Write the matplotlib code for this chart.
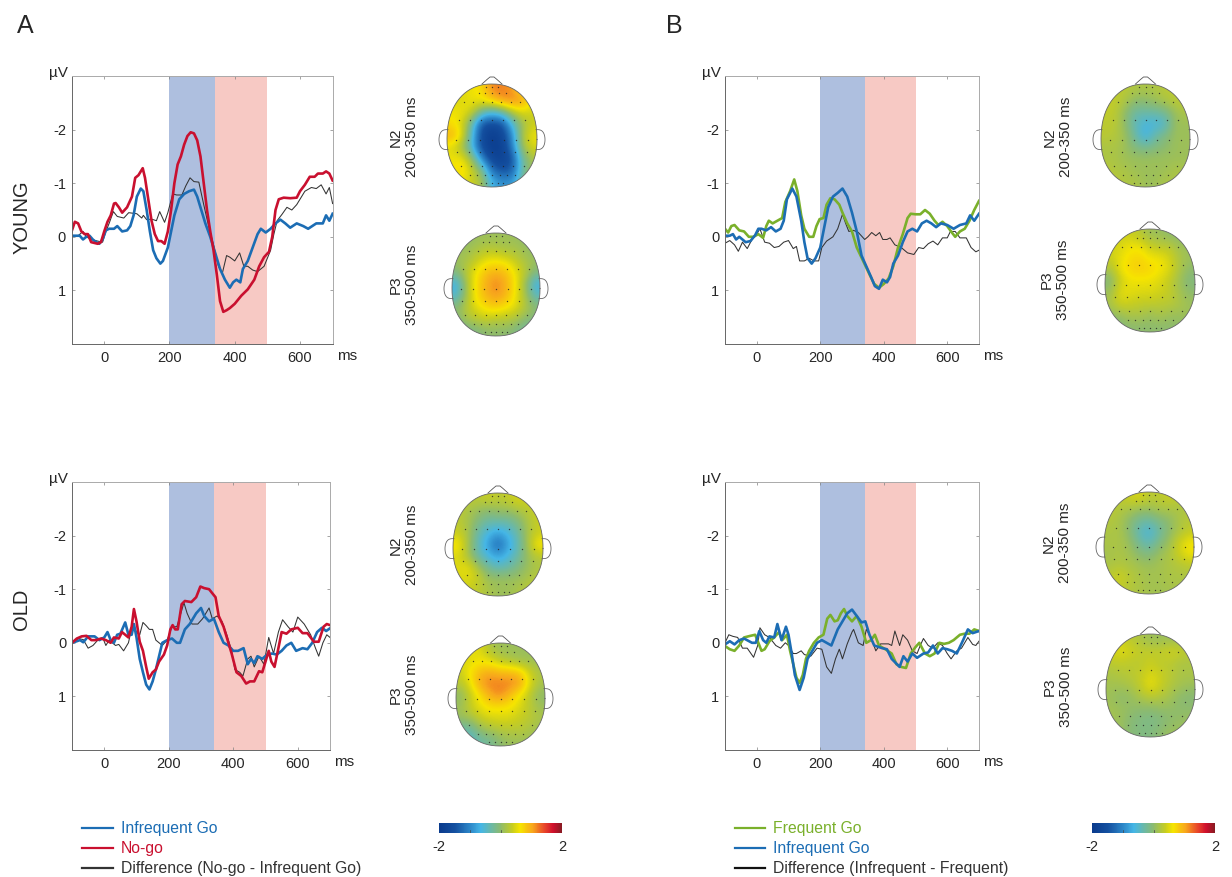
import numpy as np
import matplotlib
matplotlib.use('Agg')
import matplotlib.pyplot as plt
from matplotlib.colors import LinearSegmentedColormap, Normalize
from matplotlib.cm import ScalarMappable
from matplotlib.patches import Polygon

plt.rcParams['font.family'] = ['Liberation Sans', 'DejaVu Sans']

# 1. ERP curves (ms, uV)

a_young_nogo_t = [-100,-90,-80,-70,-60,-50,-40,-20,-10,0,10,20,30,35,45,55,70,85,95,105,118,125,135,145,155,165,175,185,195,205,215,225,235,245,255,265,275,285,295,305,315,325,335,345,355,365,375,385,400,420,440,460,475,490,505,515,525,535,550,570,590,600,615,630,645,655,670,680,690,700]
a_young_nogo_v = [-0.1,-0.28,-0.25,-0.1,-0.05,-0.05,0.1,0.13,0.1,-0.1,-0.28,-0.4,-0.62,-0.63,-0.55,-0.45,-0.55,-0.75,-1.1,-1.15,-1.28,-1.1,-0.7,-0.3,-0.05,0.08,0.08,0.13,-0.1,-0.5,-1.0,-1.35,-1.5,-1.72,-1.88,-1.95,-1.93,-1.8,-1.5,-1.0,-0.5,-0.1,0.25,0.7,1.2,1.4,1.37,1.33,1.25,1.1,0.98,0.8,0.55,0.38,0.28,0,-0.5,-0.7,-0.73,-0.72,-0.73,-0.85,-0.97,-1.12,-1.12,-1.18,-1.18,-1.22,-1.18,-1.05]
a_young_infreq_t = [-100,-85,-75,-65,-55,-45,-35,-25,-15,-5,5,15,30,40,55,70,80,90,100,112,120,130,140,150,160,172,180,195,205,215,230,245,260,275,285,295,310,325,340,355,370,385,395,405,417,425,440,455,470,480,495,510,525,540,555,570,590,610,625,650,670,680,690,700]
a_young_infreq_v = [-0.02,-0.02,-0.02,0.05,0,-0.02,0.05,0.1,0.13,0.05,-0.12,-0.15,-0.15,-0.2,-0.1,-0.12,-0.2,-0.4,-0.75,-0.9,-0.85,-0.5,-0.1,0.25,0.4,0.5,0.45,0.2,-0.1,-0.4,-0.7,-0.8,-0.85,-0.88,-0.75,-0.55,-0.25,0,0.3,0.6,0.8,0.95,0.85,0.8,0.85,0.6,0.45,0.2,-0.05,-0.15,-0.08,-0.15,-0.25,-0.32,-0.25,-0.17,-0.25,-0.2,-0.15,-0.25,-0.25,-0.4,-0.3,-0.43]
a_young_diff_t = [-100,-80,-65,-55,-40,-20,-5,5,15,28,40,60,75,100,115,120,130,145,160,170,185,195,210,222,238,250,263,275,290,305,320,335,350,362,375,385,400,415,428,440,455,470,490,510,520,530,545,560,575,590,615,635,650,665,680,690,700]
a_young_diff_v = [-0.02,-0.02,-0.1,0,0.05,0.08,0.1,-0.1,-0.25,-0.47,-0.38,-0.35,-0.45,-0.43,-0.35,-0.4,-0.32,-0.33,-0.3,-0.47,-0.27,-0.45,-0.8,-0.78,-0.78,-0.95,-1.1,-1.03,-1.02,-0.6,-0.2,0.15,0.55,0.68,0.35,0.38,0.45,0.3,0.55,0.55,0.62,0.65,0.55,0.25,-0.05,-0.3,-0.42,-0.55,-0.5,-0.6,-0.85,-0.92,-0.9,-0.97,-0.8,-0.92,-0.62]

a_old_nogo_t = [-100,-85,-70,-55,-40,-25,-10,5,20,30,45,55,65,75,85,92,100,110,120,130,138,150,160,170,185,195,205,212,220,228,240,250,270,285,298,310,325,345,355,370,385,395,410,425,440,452,465,480,490,500,510,518,528,540,550,565,580,600,615,630,650,665,680,690,700]
a_old_nogo_v = [0,-0.08,-0.12,-0.13,-0.05,-0.05,-0.08,-0.05,0,-0.1,-0.08,-0.2,-0.15,-0.1,-0.3,-0.63,-0.4,-0.02,0.15,0.45,0.67,0.55,0.5,0.35,0.22,0.05,-0.25,-0.33,-0.25,-0.25,-0.72,-0.78,-0.76,-0.85,-1.05,-1.02,-1.0,-0.85,-0.5,-0.3,0,0.2,0.55,0.62,0.76,0.72,0.72,0.53,0.55,0.35,0.15,0.35,0.45,0.1,-0.2,-0.17,-0.25,-0.28,-0.18,-0.18,-0.02,-0.02,-0.3,-0.35,-0.33]
a_old_infreq_t = [-100,-85,-75,-65,-50,-30,-15,0,10,20,30,40,50,65,75,85,92,100,110,120,130,140,150,160,170,180,195,210,225,235,250,265,285,300,310,325,340,355,370,385,400,415,432,445,455,465,475,490,505,520,535,550,565,580,595,615,630,645,660,675,688,700]
a_old_infreq_v = [0,-0.03,-0.05,-0.01,-0.12,-0.12,-0.05,-0.1,-0.2,-0.05,0,-0.15,-0.17,-0.38,-0.15,-0.15,-0.35,-0.1,0.3,0.55,0.78,0.87,0.72,0.5,0.25,0,-0.05,-0.08,0,0,-0.25,-0.35,-0.55,-0.65,-0.5,-0.4,-0.45,-0.2,0,0.05,0.15,0.15,0.1,0.4,0.3,0.38,0.25,0.3,0.22,0.2,0.22,0.15,0.05,0,0.15,0.1,0.12,0,-0.2,-0.28,-0.22,-0.27]
a_old_diff_t = [-100,-80,-65,-50,-35,-20,-5,5,15,25,35,45,60,75,88,100,110,120,130,140,150,160,170,180,195,210,225,240,247,257,272,290,305,325,335,350,365,380,395,405,420,430,445,455,465,480,495,510,525,540,553,570,585,600,620,640,655,665,678,690,700]
a_old_diff_v = [0,-0.08,-0.06,0.1,0.05,-0.05,-0.1,0.05,-0.05,0,0.05,0.03,0.15,0,-0.35,-0.2,-0.15,-0.38,-0.32,-0.25,-0.25,-0.05,0,0.05,-0.05,-0.3,-0.3,-0.6,-0.75,-0.55,-0.35,-0.35,-0.45,-0.65,-0.45,-0.5,-0.4,-0.15,0.15,0.5,0.55,0.62,0.3,0.25,0.45,0.25,0.4,-0.1,0.2,-0.2,-0.43,-0.3,-0.2,-0.48,-0.35,-0.15,0.1,0.25,0,-0.15,-0.1]

b_young_freq_t = [-100,-90,-80,-70,-55,-40,-25,-10,5,20,30,38,50,65,80,90,105,118,128,140,150,165,178,188,198,210,220,232,245,260,270,285,300,315,335,355,370,385,400,415,430,445,460,475,485,500,515,530,545,560,572,585,600,612,625,640,655,670,685,700]
b_young_freq_v = [-0.15,-0.08,-0.2,-0.22,-0.12,-0.1,0,0,-0.05,0.02,-0.2,-0.3,-0.25,-0.3,-0.35,-0.65,-0.85,-1.07,-0.85,-0.4,-0.15,0,0,-0.2,-0.33,-0.35,-0.6,-0.72,-0.7,-0.6,-0.45,-0.25,-0.1,0.2,0.45,0.7,0.88,0.95,0.88,0.78,0.55,0.2,-0.05,-0.35,-0.43,-0.42,-0.42,-0.5,-0.43,-0.3,-0.22,-0.28,-0.2,-0.1,0,-0.1,-0.15,-0.3,-0.5,-0.67]
b_young_infreq_t = [-100,-85,-75,-65,-55,-45,-35,-20,-5,5,15,30,45,60,75,85,95,112,125,140,150,160,173,185,200,210,225,240,255,270,285,300,315,330,345,360,372,385,397,410,420,430,445,460,475,490,505,520,535,550,565,580,600,620,640,660,672,685,700]
b_young_infreq_v = [-0.02,-0.02,-0.05,0.05,0,0.05,0.1,0.08,-0.03,-0.15,-0.15,-0.12,-0.18,-0.1,-0.15,-0.3,-0.7,-0.9,-0.75,-0.3,0.1,0.4,0.5,0.4,0.2,-0.1,-0.55,-0.75,-0.82,-0.9,-0.75,-0.45,-0.1,0.35,0.55,0.75,0.92,0.97,0.8,0.85,0.75,0.5,0.35,0.1,-0.1,-0.15,-0.1,-0.25,-0.3,-0.25,-0.18,-0.25,-0.22,-0.15,-0.22,-0.25,-0.4,-0.3,-0.43]
b_young_diff_t = [-100,-85,-70,-58,-45,-30,-15,0,10,25,40,55,70,85,100,115,125,135,150,165,180,195,205,220,240,255,270,280,290,305,320,340,350,362,375,387,397,410,420,435,455,475,495,510,525,540,555,570,585,600,610,625,640,660,675,690,700]
b_young_diff_v = [0.12,0.07,0.15,0.27,0.1,0.22,0.05,-0.05,-0.15,0.1,0.12,0.2,0.18,0.1,0.07,0.22,0.18,0.45,0.45,0.4,0.45,0.45,0.2,0.08,0,-0.15,-0.42,-0.25,-0.1,-0.12,-0.08,0.05,0,-0.08,-0.02,-0.08,0.05,0.05,0.02,0.15,0.2,0.3,0.33,0.2,0.22,0.13,0.08,0.15,0.02,0.02,-0.1,-0.1,0.02,0.02,0.2,0.28,0.25]

b_old_freq_t = [-100,-85,-70,-55,-40,-20,-5,5,15,25,40,55,70,80,95,105,115,125,135,145,155,165,180,195,210,222,232,245,255,265,275,285,300,315,330,345,360,372,385,405,425,440,455,470,485,500,512,530,545,560,575,590,605,620,640,655,670,685,700]
b_old_freq_v = [0.06,0.12,0.15,0.05,-0.1,-0.13,-0.15,0,0.15,0.12,-0.03,-0.1,-0.2,-0.05,-0.15,0.15,0.4,0.65,0.75,0.6,0.3,0.15,0,-0.1,-0.15,-0.45,-0.52,-0.4,-0.42,-0.55,-0.63,-0.5,-0.4,-0.5,-0.3,0,-0.05,-0.15,0.05,0.12,0.2,0.4,0.45,0.47,0.2,0.08,0,0.2,0.25,0.2,0,0.02,0,-0.05,-0.15,-0.17,-0.17,-0.25,-0.22]
b_old_infreq_t = [-100,-85,-70,-55,-40,-15,-3,8,20,30,40,55,65,78,92,100,110,120,135,148,160,175,190,205,220,235,255,270,285,300,315,330,342,355,370,395,410,425,450,462,475,490,505,525,540,555,570,585,600,615,630,650,665,680,700]
b_old_infreq_v = [0.03,-0.03,0.03,-0.05,-0.08,0,0,-0.22,-0.05,0,-0.12,-0.1,-0.35,-0.05,-0.3,-0.15,0.2,0.6,0.88,0.65,0.3,0.15,0,-0.05,0,0.05,-0.25,-0.4,-0.55,-0.62,-0.5,-0.38,-0.4,-0.15,0.05,0.1,0.12,0.3,0.45,0.25,0.35,0.2,0.28,0.2,0.18,0.05,0.2,0.1,0.12,0.15,0.2,-0.05,-0.25,-0.18,-0.22]
b_old_diff_t = [-100,-88,-75,-60,-45,-30,-10,3,10,25,40,60,75,90,100,115,125,140,150,170,190,205,220,235,248,260,270,285,300,305,320,335,345,360,375,390,415,425,435,450,460,475,490,505,515,525,540,555,570,585,600,612,630,645,665,680,690,700]
b_old_diff_v = [0,-0.15,-0.12,-0.1,0.1,0.1,0.27,0.05,-0.28,-0.15,-0.1,0.05,0.1,0,0.05,0.2,0.2,0.15,0.22,0.25,0.1,0.12,0.45,0.57,0.3,0.12,0.3,0.02,-0.2,-0.25,0,0.05,-0.25,-0.1,0.15,0.02,0.02,0.05,-0.22,0.05,-0.15,-0.05,0.15,0.2,0.05,-0.08,0.05,0.1,0,0.05,0.2,0.3,0.15,0.1,-0.1,0.03,0.05,-0.03]

# 2. Scalp maps, coarse grid of values (front row first)

a_young_n2 = [[.5,.5,.6,.7,1.2,1.2,1.1,.7,.7],[.5,.5,.6,.6,.8,1.1,1.2,1.1,.6],[.6,.6,.4,-.3,-.6,-.4,.2,.5,.4],[.7,.5,-.3,-1.5,-1.6,-1.5,-.6,.1,.4],[1.0,.6,-.5,-1.6,-1.9,-1.7,-1.0,.2,.6],[.5,.2,-.6,-1.6,-1.9,-1.8,-1.1,.1,.5],[.6,.6,.1,-1.0,-1.7,-1.8,-1.5,-.3,.2],[.6,.8,.4,-.1,-1.2,-1.5,-1.4,-.3,.1],[.5,.6,.4,.2,-.7,-.9,-.9,-.2,.1]]
a_young_p3 = [[0,0,.1,.1,.1,.1,.1,.0,0],[.1,.1,.2,.3,.3,.2,.2,.1,.0],[.1,.2,.4,.6,.65,.6,.4,.2,.1],[-.1,.3,.65,.9,1.0,.9,.6,.3,-.1],[-.7,.2,.7,1.0,1.2,1.0,.65,.1,-.7],[-.5,.2,.7,.95,1.1,.95,.6,.2,-.4],[0,.3,.55,.7,.8,.65,.55,.25,0],[-.1,.2,.3,.4,.3,.3,.2,.0,-.1],[-.3,-.2,-.1,0,0,0,-.1,-.3,-.3]]
a_old_n2 = [[.3,.3,.3,.4,.3,.35,.5,.4,.3],[.3,.2,.1,.0,.1,.1,.2,.3,.4],[.3,.2,-.1,-.3,-.3,-.3,-.1,.2,.4],[.4,.2,-.3,-.6,-.8,-.6,-.3,.2,.4],[.7,.2,-.4,-.8,-1.3,-.8,-.4,.2,.7],[.5,.2,-.3,-.6,-.8,-.6,-.3,.1,.3],[.5,.6,.2,-.2,-.4,-.3,-.1,.1,.2],[.5,.5,.4,.1,.1,.1,.1,.2,.3],[.4,.4,.3,.2,.1,.1,.2,.3,.3]]
a_old_p3 = [[.4,.6,.5,.2,.1,.1,.1,.1,.1],[.5,.5,.6,.5,.3,.2,.1,.1,.1],[.4,.7,.9,1.0,.9,.9,.8,.4,.2],[.3,.6,1.1,1.2,1.2,1.2,1.1,.5,.2],[.0,.4,.7,1.05,1.2,.9,.6,.3,.0],[.1,.4,.6,.7,.7,.65,.5,.3,.1],[.1,.2,.4,.5,.5,.5,.4,.3,.2],[-.3,-.3,.1,.2,.3,.3,.3,.2,.1],[-.5,-.5,-.3,-.2,0,.1,.1,.1,.1]]
b_young_n2 = [[.3,.3,.3,.2,.2,.2,.3,.3,.3],[.35,.35,.2,.0,.0,.1,.2,.3,.3],[.35,.3,.0,-.3,-.3,-.3,-.2,.1,.2],[.3,.3,.0,-.4,-.6,-.6,-.5,.1,.1],[.3,.25,.1,-.3,-.7,-.3,-.1,.1,.1],[.2,.2,.1,-.1,-.2,-.1,.0,.1,.1],[.2,.2,.1,.1,.1,.1,.1,.1,.1],[.3,.2,.2,.1,.1,.1,.1,.2,.2],[.3,.3,.2,.2,.1,.1,.2,.2,.2]]
b_young_p3 = [[.3,.4,.4,.3,.1,.1,0,0,0],[.4,.5,.6,.6,.4,.3,.3,.1,.1],[.4,.55,.7,.75,.6,.6,.45,.2,.1],[.2,.6,.75,.8,.75,.65,.5,.2,.0],[-.1,.4,.6,.6,.6,.5,.35,.1,-.1],[.1,.55,.55,.5,.5,.45,.35,.15,0],[.2,.45,.4,.35,.35,.3,.3,.2,.1],[.0,.1,.2,.2,.1,.2,.1,.1,.1],[-.1,-.1,.0,.0,.0,.0,.0,.0,.1]]
b_old_n2 = [[.3,.3,.4,.5,.3,.3,.4,.3,.3],[.3,.25,.2,.1,.1,.2,.2,.2,.2],[.25,.2,.0,-.2,-.3,-.1,.0,.2,.3],[.2,.2,.0,-.4,-.6,-.3,.0,.2,.35],[.2,.2,.1,-.2,-.4,-.1,.1,.45,.65],[.15,.2,.15,.0,-.1,.1,.2,.4,.6],[.2,.25,.2,.15,.1,.15,.2,.25,.3],[.3,.45,.3,.2,.15,.15,.2,.2,.2],[.3,.35,.25,.2,.15,.15,.15,.2,.2]]
b_old_p3 = [[.4,.4,.3,.2,.1,.1,.1,.1,.1],[.45,.55,.45,.35,.35,.35,.45,.4,.3],[.3,.35,.3,.3,.4,.3,.3,.2,.2],[.2,.25,.3,.35,.5,.4,.3,.2,.2],[.15,.15,.2,.35,.6,.4,.25,.15,.1],[.1,.0,.05,.2,.3,.25,.15,.0,-.05],[.15,.1,.05,.0,.0,.05,.05,.0,.0],[.15,.1,-.05,-.1,-.15,-.1,.0,.05,.1],[.1,.1,-.05,-.1,-.1,.0,.1,.1,.1]]

x_ticks = [0, 200, 400, 600]
y_ticks = [-2, -1, 0, 1]
n2_window = (200, 340)
p3_window = (340, 500)

BLUE = '#1C6DB4'
RED = '#C9102F'
GREEN = '#7AB02B'
DARK = '#333333'

W, H = 1232, 877
fig = plt.figure(figsize=(W / 100, H / 100), dpi=100)

# overlay in pixel coordinates for the text, heads and legends
over = fig.add_axes([0, 0, 1, 1], zorder=5)
over.set_xlim(0, W)
over.set_ylim(H, 0)
over.axis('off')

cmap = LinearSegmentedColormap.from_list('topo', [
    (0.00, '#0A3A8C'), (0.13, '#1450A0'), (0.25, '#2C86C8'), (0.34, '#45B6E6'),
    (0.50, '#8DBB6E'), (0.60, '#C9CE1E'), (0.66, '#F6E500'), (0.76, '#F8A81C'),
    (0.86, '#E8452A'), (0.93, '#CF0F2C'), (1.00, '#861B22')])


def erp_panel(left, right, top, bottom, curves, windows):
    ax = fig.add_axes([left / W, 1 - bottom / H, (right - left) / W, (bottom - top) / H])
    ax.axvspan(*windows[0], color='#AEBFDF', lw=0)
    ax.axvspan(*windows[1], color='#F7C9C4', lw=0)
    for t, v, c, lw in curves:
        ax.plot(t, v, color=c, lw=lw, solid_joinstyle='round')
    ax.set_xlim(-100, 700)
    ax.set_ylim(2, -3)
    ax.set_xticks(x_ticks)
    ax.set_yticks(y_ticks)
    ax.set_yticklabels(['-2', '-1', '0', '1'])
    ax.tick_params(direction='in', length=2.5, width=0.5, color='#808080', top=True, right=True,
                   labelsize=10.5, labelcolor='#262626', pad=4)
    ax.tick_params(axis='x', pad=5)
    ax.spines['left'].set_color('#666666')
    ax.spines['bottom'].set_color('#666666')
    ax.spines['top'].set_color('#AAAAAA')
    ax.spines['right'].set_color('#AAAAAA')
    for s in ax.spines.values():
        s.set_linewidth(0.7)
    over.text(left - 23, top - 3, 'µV', fontsize=11, color='#262626', va='center')
    over.text(right + 4, bottom + 12.5, 'ms', fontsize=11, color='#262626', va='center')
    return ax


def scalp(values, left, right, top, bottom, label, lx, ly):
    cx = (left + right) / 2
    im = over.imshow(values, cmap=cmap, vmin=-2, vmax=2, interpolation='bicubic',
                     extent=(left, right, bottom, top), origin='upper', aspect='auto')
    # head outline is an egg, widest a bit below the middle
    mid = top + 0.54 * (bottom - top)
    a = np.linspace(0, 2 * np.pi, 240)
    c, s = np.cos(a), np.sin(a)
    hx = cx + (right - left) / 2 * np.sign(c) * np.abs(c) ** 0.9
    hy = np.where(s < 0, mid + (mid - top) * np.sign(s) * np.abs(s) ** 0.9,
                  mid + (bottom - mid) * np.abs(s) ** 0.9)
    clip = Polygon(np.column_stack([hx, hy]), closed=True, transform=over.transData)
    im.set_clip_path(clip)
    over.plot(hx, hy, color='#666666', lw=0.6)
    # nose
    over.plot(cx + np.array([-10, -5, -2, 2, 5, 10]), top + np.array([0, -4.5, -7, -7, -4.5, 0]),
              color='#555555', lw=0.6)
    # ears
    b = np.linspace(0.5 * np.pi, 1.5 * np.pi, 30)
    for side in (-1, 1):
        ex = cx + side * ((right - left) / 2 - 1) + side * 9 * np.abs(np.cos(b)) ** 0.6
        ey = mid + 10 * np.sin(b)
        over.plot(ex, ey, color='#666666', lw=0.6)
    # electrodes
    for row_y, half, n in [(-0.94, 0.14, 3), (-0.82, 0.3, 5), (-0.66, 0.62, 7), (-0.3, 0.74, 7),
                           (0.08, 0.8, 7), (0.32, 0.78, 7), (0.6, 0.7, 7), (0.76, 0.5, 7),
                           (0.92, 0.25, 5)]:
        ex = cx + np.linspace(-half, half, n) * (right - left) / 2
        ey = np.full(n, top + (row_y + 1) / 2 * (bottom - top))
        over.scatter(ex, ey, s=1.0, color='#222222', lw=0, alpha=0.8, zorder=4)
    over.text(lx, ly, label, rotation=90, ha='center', va='center', fontsize=11, color='#262626',
              linespacing=1.2, multialignment='center')


def legend(x0, x1, tx, rows):
    for y, label, c, tc in rows:
        over.plot([x0, x1], [y, y], color=c, lw=1.6)
        over.text(tx, y, label, color=tc, fontsize=11.3, va='center')


def colorbar(left, right):
    cax = fig.add_axes([left / W, 1 - 833 / H, (right - left) / W, 10 / H])
    cb = fig.colorbar(ScalarMappable(Normalize(-2, 2), cmap), cax=cax, orientation='horizontal',
                      ticks=[-2, 2])
    cb.set_ticklabels(['-2', '2'])
    cb.outline.set_visible(False)
    cax.tick_params(length=0, labelsize=10.5, labelcolor='#262626', pad=5)
    for xv in (-1, 0):
        cax.axvline(xv, ymin=0, ymax=0.3, color='#444444', lw=0.5)


# 3. ERP panels

erp_panel(71.6, 332.6, 76, 344, [
    (a_young_diff_t, a_young_diff_v, DARK, 0.75),
    (a_young_infreq_t, a_young_infreq_v, BLUE, 1.9),
    (a_young_nogo_t, a_young_nogo_v, RED, 1.9)], (n2_window, p3_window))
erp_panel(72, 330, 482, 750, [
    (a_old_diff_t, a_old_diff_v, DARK, 0.75),
    (a_old_infreq_t, a_old_infreq_v, BLUE, 1.9),
    (a_old_nogo_t, a_old_nogo_v, RED, 1.9)], (n2_window, p3_window))
erp_panel(725, 979, 76, 344, [
    (b_young_diff_t, b_young_diff_v, DARK, 0.75),
    (b_young_freq_t, b_young_freq_v, GREEN, 1.9),
    (b_young_infreq_t, b_young_infreq_v, BLUE, 1.9)], (n2_window, p3_window))
erp_panel(725, 979, 482, 750, [
    (b_old_diff_t, b_old_diff_v, DARK, 0.75),
    (b_old_freq_t, b_old_freq_v, GREEN, 1.9),
    (b_old_infreq_t, b_old_infreq_v, BLUE, 1.9)], (n2_window, p3_window))

# 4. Scalp maps

n2_label = 'N2\n200-350 ms'
p3_label = 'P3\n350-500 ms'
scalp(a_young_n2, 447, 537, 84, 187, n2_label, 404, 137)
scalp(a_young_p3, 452, 540, 233, 336, p3_label, 404, 285)
scalp(a_old_n2, 453, 543, 493, 596, n2_label, 404, 545)
scalp(a_old_p3, 456, 545, 643, 746, p3_label, 404, 695)
scalp(b_young_n2, 1101, 1190, 84, 187, n2_label, 1058, 137)
scalp(b_young_p3, 1105, 1195, 229, 332, p3_label, 1055, 280)
scalp(b_old_n2, 1104, 1194, 492, 594, n2_label, 1057, 543)
scalp(b_old_p3, 1106, 1195, 634, 737, p3_label, 1058, 687)

# 5. Letters, group names, legends and colour bars

over.text(17, 26, 'A', fontsize=18, color='#262626', va='center')
over.text(666, 26, 'B', fontsize=18, color='#262626', va='center')
over.text(22, 217, 'YOUNG', rotation=90, fontsize=14.5, color='#262626', ha='center', va='center')
over.text(22, 609, 'OLD', rotation=90, fontsize=14.5, color='#262626', ha='center', va='center')

legend(82, 113, 121, [
    (828, 'Infrequent Go', BLUE, BLUE),
    (848, 'No-go', RED, RED),
    (868, 'Difference (No-go - Infrequent Go)', DARK, DARK)])
legend(735, 765, 773, [
    (828, 'Frequent Go', GREEN, GREEN),
    (848, 'Infrequent Go', BLUE, BLUE),
    (868, 'Difference (Infrequent - Frequent)', '#111111', DARK)])

colorbar(439, 562)
colorbar(1092, 1215)

over.set_xlim(0, W)
over.set_ylim(H, 0)

plt.savefig('out.png', dpi=100)
